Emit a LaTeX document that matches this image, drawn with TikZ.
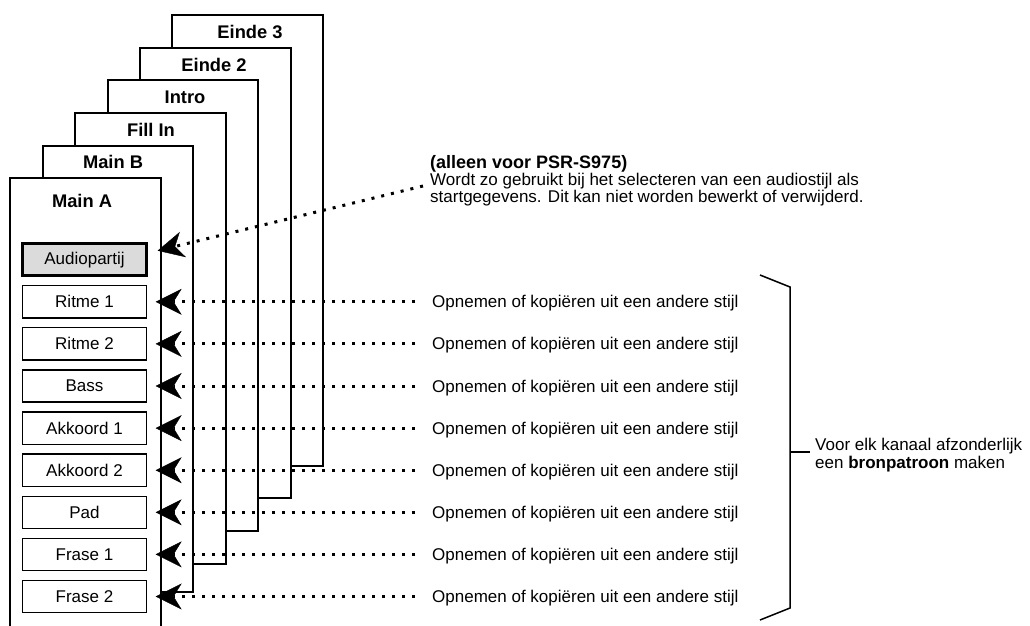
\documentclass[tikz,border=0pt]{standalone}
\usepackage{fontspec}
\setmainfont{Liberation Sans}
\usetikzlibrary{arrows.meta}
\begin{document}
\begin{tikzpicture}[x=1pt,y=-1pt,
  frame/.style={draw=black, line width=2.6pt, fill=white, line join=miter},
  framelabel/.style={anchor=base, inner sep=0pt, font=\fontsize{18.3}{18.3}\selectfont\bfseries},
  part/.style={draw=black, line width=1.3pt, fill=white, minimum width=124pt, minimum height=32.2pt, inner sep=0pt, font=\fontsize{17}{17}\selectfont},
  audiopart/.style={part, line width=3.2pt, fill=black!14},
  txt/.style={anchor=base west, inner sep=0pt, font=\fontsize{17}{17}\selectfont},
  boldtxt/.style={txt, font=\fontsize{18}{18}\selectfont\bfseries},
  conn/.style={line width=3pt, dash pattern=on 3pt off 7pt,
    -{Stealth[length=26pt,width=26pt,inset=8pt,line width=0.4pt]}},
  brace/.style={line width=1.5pt, line join=miter}
]
\useasboundingbox (0,0) rectangle (1030,625);
\clip (0,0) rectangle (1030,625);

% stacked frames, back to front
\draw[frame] (172,15) rectangle (323,466);
\node[framelabel] (fe3) at (250,38) {Einde 3};
\draw[frame] (140,48) rectangle (291,498);
\node[framelabel] (fe2) at (214,71) {Einde 2};
\draw[frame] (108,80) rectangle (258,531);
\node[framelabel] (fin) at (185,103) {Intro};
\draw[frame] (75,113) rectangle (226,564);
\node[framelabel] (ffi) at (151,136) {Fill In};
\draw[frame] (43,146) rectangle (193,592);
\node[framelabel] (fmb) at (113,168) {Main B};
\draw[frame] (10,178) rectangle (161,700);
\node[framelabel] (fma) at (82,207) {Main A};

% parts
\node[audiopart] (ap) at (84.5,259.7) {Audiopartij};
\node[part] (r1) at (84.5,301.8) {Ritme 1};
\node[part] (r2) at (84.5,343.9) {Ritme 2};
\node[part] (r3) at (84.5,386.0) {Bass};
\node[part] (r4) at (84.5,428.1) {Akkoord 1};
\node[part] (r5) at (84.5,470.2) {Akkoord 2};
\node[part] (r6) at (84.5,512.3) {Pad};
\node[part] (r7) at (84.5,554.4) {Frase 1};
\node[part] (r8) at (84.5,596.5) {Frase 2};

% texts on the right of the parts
\foreach \i/\y in {1/301.8,2/343.9,3/386.0,4/428.1,5/470.2,6/512.3,7/554.4,8/596.5}{
  \node[txt] (t\i) at (432,\y+6) {Opnemen of kopiëren uit een andere stijl};
  \draw[conn, shorten <=17pt, shorten >=8.5pt] (t\i.west |- r\i.east) -- (r\i.east);
}

% audio note
\node[boldtxt] (n1) at (430,168) {(alleen voor PSR-S975)};
\node[txt] (n2) at (430,185.5) {Wordt zo gebruikt bij het selecteren van een audiostijl als};
\node[txt] (n3) at (430,202.5) {startgegevens. Dit kan niet worden bewerkt of verwijderd.};
\coordinate (apend) at (423,186);
\draw[conn] (apend) -- ([shift={(9.5,-9)}]ap.east);

% bracket
\coordinate (b1) at (760,275);
\coordinate (b2) at (790,287);
\coordinate (b3) at (790,608);
\coordinate (b4) at (760,620);
\coordinate (bm) at (790,452);
\draw[brace] (b1) -- (b2) -- (b3) -- (b4);
\node[txt] (v1) at (815,450) {Voor elk kanaal afzonderlijk};
\node[txt] (v2) at (815,468) {een \textbf{bronpatroon} maken};
\draw[brace, shorten >=5pt] (bm) -- (bm -| v1.west);
\end{tikzpicture}
\end{document}
